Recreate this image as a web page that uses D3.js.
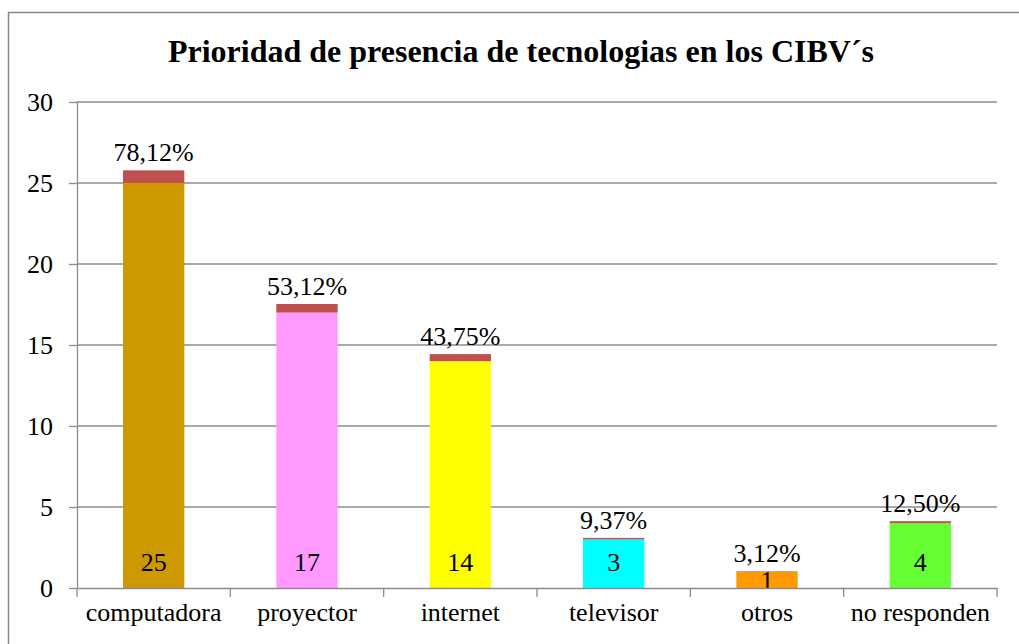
<!DOCTYPE html>
<html lang="es">
<head>
<meta charset="utf-8">
<script src="https://cdn.jsdelivr.net/npm/d3@7"></script>
<style>
  body { margin: 0; background: white; }
  svg, svg text { font-family: "Liberation Serif", "Times New Roman", Times, "DejaVu Serif", serif; }
  .grid line { stroke: #8c8c8c; stroke-width: 1.3px; }
  .axis path, .axis line { stroke: #8c8c8c; stroke-width: 1.3px; }
  .axis text { font-size: 26px; fill: black; }
  .lbl { font-size: 26px; fill: black; }
</style>
</head>
<body>
<svg width="1019" height="644"></svg>
<script>
// data
var categories = ["computadora", "proyector", "internet", "televisor", "otros", "no responden"];
var counts = [25, 17, 14, 3, 1, 4];
var percents = [0.7812, 0.5312, 0.4375, 0.0937, 0.0312, 0.125];
var percentLabels = ["78,12%", "53,12%", "43,75%", "9,37%", "3,12%", "12,50%"];
var barColors = ["#cc9900", "#ff99ff", "#ffff00", "#00ffff", "#ff9900", "#66ff33"];
var yTicks = [0, 5, 10, 15, 20, 25, 30];

var svg = d3.select("svg");
var margin = {left: 77, top: 102, right: 22, bottom: 56};
var width = 1019 - margin.left - margin.right,
    height = 644 - margin.top - margin.bottom;

// outer frame
svg.append("rect")
  .attr("x", 8.5).attr("y", 12.5)
  .attr("width", 1030).attr("height", 660)
  .attr("fill", "white").attr("stroke", "#868686").attr("stroke-width", 1.5);

svg.append("text")
  .attr("x", 521).attr("y", 62)
  .attr("text-anchor", "middle")
  .style("font-size", "32px").style("font-weight", "bold")
  .text("Prioridad de presencia de tecnologias en los CIBV\u00b4s");

var g = svg.append("g").attr("transform", "translate(" + margin.left + "," + margin.top + ")");

var x = d3.scaleBand().domain(categories).range([0, width]).paddingInner(0.6).paddingOuter(0.3);
var xb = d3.scaleBand().domain(categories).range([0, width]);
var y = d3.scaleLinear().domain([0, 30]).range([height, 0]);

g.append("g").attr("class", "grid")
  .selectAll("line").data(yTicks.slice(1)).enter().append("line")
  .attr("x1", 0).attr("x2", width)
  .attr("y1", d => y(d)).attr("y2", d => y(d));

var rows = categories.map((c, i) => ({cat: c, n: counts[i], p: percents[i], pl: percentLabels[i], col: barColors[i]}));

var bars = g.selectAll(".bar").data(rows).enter().append("g");

bars.append("rect")
  .attr("x", d => x(d.cat)).attr("width", x.bandwidth())
  .attr("y", d => y(d.n)).attr("height", d => y(0) - y(d.n))
  .attr("fill", d => d.col);

bars.append("rect")
  .attr("x", d => x(d.cat)).attr("width", x.bandwidth())
  .attr("y", d => y(d.n + d.p)).attr("height", d => y(d.n) - y(d.n + d.p))
  .attr("fill", "#c0504d");

// count labels at the base of each bar (centred when the bar is too short)
bars.append("text").attr("class", "lbl")
  .attr("x", d => x(d.cat) + x.bandwidth() / 2)
  .attr("y", d => {
    var h = y(0) - y(d.n);
    return h < 30 ? y(d.n / 2) + 9 : y(0) - 17;
  })
  .attr("text-anchor", "middle")
  .text(d => d.n);

// percentage labels on top
bars.append("text").attr("class", "lbl")
  .attr("x", d => x(d.cat) + x.bandwidth() / 2)
  .attr("y", d => y(d.n + d.p) - 9)
  .attr("text-anchor", "middle")
  .text(d => d.pl);

// axes
var yAxis = g.append("g").attr("class", "axis")
  .call(d3.axisLeft(y).tickValues(yTicks).tickSize(8).tickPadding(16).tickSizeOuter(0));
yAxis.attr("font-family", null);
yAxis.selectAll("text").attr("dy", "0.34em");

var xAxis = g.append("g").attr("class", "axis")
  .attr("transform", "translate(0," + height + ")")
  .call(d3.axisBottom(xb).tickSize(0).tickPadding(28).tickSizeOuter(0));
xAxis.attr("font-family", null);
xAxis.selectAll("text").attr("dy", "0.2em");

// band boundary ticks under the x axis
xAxis.selectAll(".sep").data(d3.range(categories.length + 1)).enter().append("line")
  .attr("class", "sep")
  .attr("x1", i => i * xb.step()).attr("x2", i => i * xb.step())
  .attr("y1", 0).attr("y2", 9);
</script>
</body>
</html>
